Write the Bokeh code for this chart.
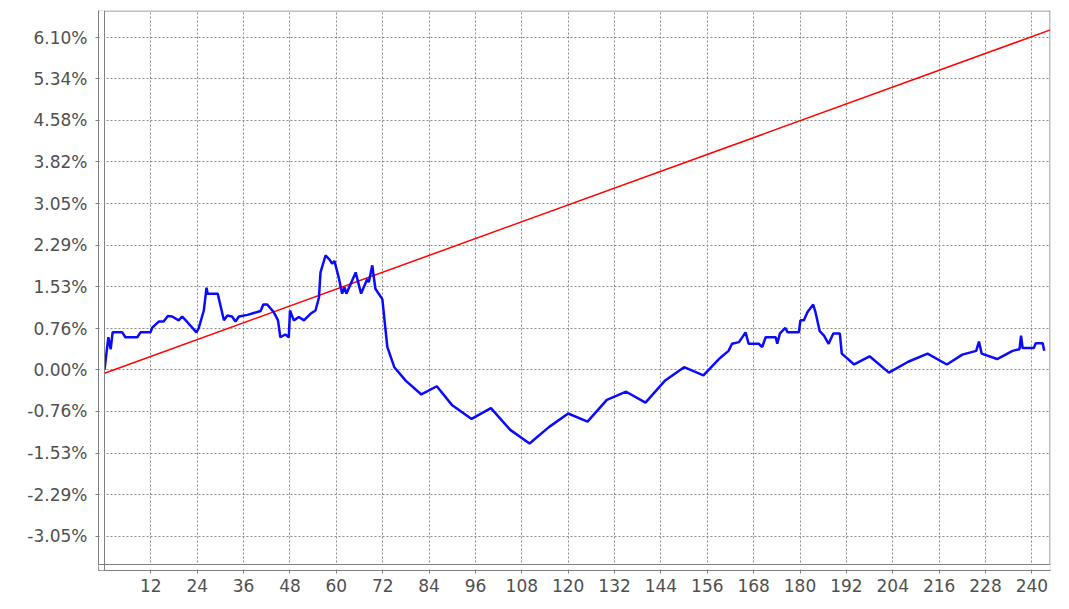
from bokeh.plotting import figure
from bokeh.models import Range1d, FixedTicker, Span, BoxAnnotation, PrintfTickFormatter
from bokeh.embed import file_html
from bokeh.resources import INLINE

# ---- data (hidden part of the reference estimated) ----
strategy_t = [0.0, 1.0, 1.6, 2.1, 4.6, 5.4, 8.5, 9.3, 11.9, 12.3, 14.1, 15.3, 16.4, 17.5,
              19.2, 20.1, 21.4, 23.8, 24.4, 25.7, 26.4, 26.7, 29.3, 30.9, 31.8, 33.0, 33.9,
              34.8, 37.0, 40.4, 41.1, 42.1, 43.8, 44.9, 45.5, 46.8, 47.7, 48.0, 49.0, 50.3,
              51.6, 53.3, 54.6, 55.5, 55.9, 57.2, 58.3, 58.9, 59.5, 60.6, 61.5, 62.1, 62.6,
              65.0, 66.4, 68.0, 68.4, 69.3, 70.1, 71.9, 73.2,
              75, 78, 82, 86, 90, 95, 100, 105, 110, 115, 120, 125, 130, 135, 140, 145,
              150, 155, 159, 161.5,
              162.4, 164.2, 165.9, 166.7, 169.3, 170.2, 171.1, 173.7, 174.1, 174.8, 176.2,
              176.8, 179.7, 180.1, 181.0, 181.9, 183.4, 184.0, 185.1, 186.2, 187.4, 188.6,
              190.3, 190.8,
              194, 198, 203, 208, 213, 218, 222, 225.6, 226.3, 227, 231, 235, 236.8, 237.2,
              237.6, 240.5, 241.0, 242.8, 243.2]
strategy_ret = [0.00, 0.60, 0.38, 0.69, 0.69, 0.60, 0.60, 0.69, 0.69, 0.77, 0.89, 0.89, 0.99, 0.98,
                0.91, 0.98, 0.88, 0.69, 0.77, 1.09, 1.51, 1.40, 1.40, 0.91, 1.00, 0.98, 0.89,
                0.98, 1.01, 1.08, 1.20, 1.20, 1.06, 0.91, 0.60, 0.65, 0.60, 1.09, 0.91, 0.97,
                0.91, 1.03, 1.09, 1.33, 1.79, 2.10, 2.02, 1.95, 2.00, 1.70, 1.40, 1.52, 1.40,
                1.79, 1.40, 1.67, 1.61, 1.92, 1.49, 1.30, 0.42,
                0.05, -0.20, -0.45, -0.30, -0.65, -0.90, -0.70, -1.10, -1.35, -1.05, -0.80,
                -0.95, -0.55, -0.40, -0.60, -0.20, 0.05, -0.10, 0.20, 0.35,
                0.48, 0.51, 0.69, 0.48, 0.48, 0.42, 0.60, 0.60, 0.48, 0.67, 0.77,
                0.69, 0.69, 0.91, 0.91, 1.06, 1.20, 1.06, 0.71, 0.63, 0.48, 0.67,
                0.67, 0.30,
                0.10, 0.25, -0.05, 0.15, 0.30, 0.10, 0.28, 0.35, 0.52, 0.30, 0.20, 0.35, 0.38,
                0.63, 0.40, 0.40, 0.49, 0.49, 0.35]

benchmark_t = [0.0, 244.8]
benchmark_ret = [-0.06, 6.24]

y_ticks = [-3.05, -2.29, -1.53, -0.76, 0.00, 0.76, 1.53, 2.29, 3.05, 3.82, 4.58, 5.34, 6.10]
x_ticks = [12, 24, 36, 48, 60, 72, 84, 96, 108, 120, 132, 144, 156, 168, 180, 192, 204, 216, 228, 240]

# ---- layout ----
X0, X1 = -1.553, 244.82
Y1 = 6.596
Y0 = -3.681
Y_INNER = -3.571

p = figure(width=1061, height=600, output_backend="svg", toolbar_location=None,
           x_range=Range1d(X0, X1), y_range=Range1d(Y0, Y1),
           min_border_left=98, min_border_right=11, min_border_top=10, min_border_bottom=30)
p.outline_line_color = None
p.background_fill_color = "white"
p.border_fill_color = "white"

for g, tk in ((p.xgrid, x_ticks), (p.ygrid, y_ticks)):
    g.ticker = FixedTicker(ticks=tk)
    g.grid_line_color = "#8a8a8a"
    g.grid_line_dash = "2 2"
    g.grid_line_width = 1

for ax, tk in ((p.yaxis, y_ticks), (p.xaxis, x_ticks)):
    ax.ticker = FixedTicker(ticks=tk)
    ax.axis_line_color = "#808080"
    ax.major_tick_line_color = "#808080"
    ax.major_tick_in = 0
    ax.major_tick_out = 3
    ax.minor_tick_line_color = None
    ax.major_label_text_color = "#505050"
    ax.major_label_text_font = "DejaVu Sans"
    ax.major_label_text_font_size = "17px"
p.yaxis.major_label_standoff = 8
p.yaxis.formatter = PrintfTickFormatter(format="%.2f%%")

# frame borders (inner frame offset from the axis lines)
p.add_layout(Span(location=Y1 - 0.009, dimension="width", line_color="#808080", line_width=1))
p.add_layout(Span(location=X1 - 0.13, dimension="height", line_color="#808080", line_width=1))
p.add_layout(BoxAnnotation(left=X0 + 0.3, right=0, fill_color="white", fill_alpha=1,
                           line_alpha=0))
p.add_layout(BoxAnnotation(bottom=Y0 + 0.02, top=Y_INNER, fill_color="white", fill_alpha=1,
                           line_alpha=0))
p.add_layout(Span(location=0, dimension="height", line_color="#808080", line_width=1))
p.add_layout(Span(location=Y_INNER, dimension="width", line_color="#808080", line_width=1))

p.line(benchmark_t, benchmark_ret, line_color="#ff0000", line_width=1.5)
p.line(strategy_t, strategy_ret, line_color="#0a0aff", line_width=2.5)

open("out.html", "w").write(file_html(p, INLINE))
